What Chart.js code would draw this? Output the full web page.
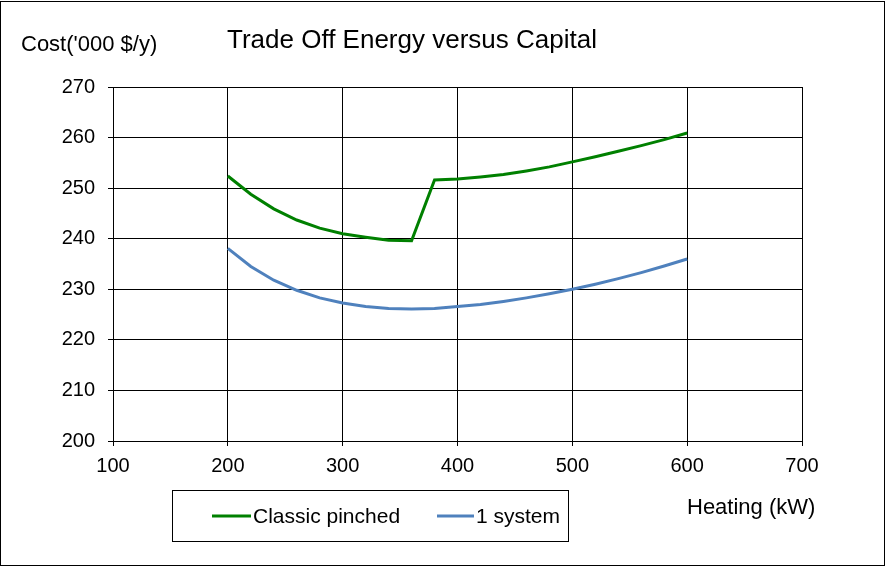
<!DOCTYPE html>
<html>
<head>
<meta charset="utf-8">
<script src="https://cdn.jsdelivr.net/npm/chart.js@4"></script>
<style>
  html, body { margin: 0; padding: 0; background: #fff; }
  #wrap { width: 887px; height: 567px; position: relative; }
</style>
</head>
<body>
<div id="wrap"><canvas id="chart" width="887" height="567"></canvas></div>
<script>
// Heating duty (kW)
const heating = [200, 220, 240, 260, 280, 300, 320, 340, 360, 380, 400, 420, 440, 460, 480, 500, 520, 540, 560, 580, 600];
// Cost ('000 $/y)
const classicPinched = [252.4, 248.8, 245.9, 243.7, 242.1, 241.0, 240.3, 239.7, 239.6, 251.6, 251.8, 252.2, 252.7, 253.4, 254.2, 255.2, 256.2, 257.3, 258.4, 259.6, 260.9];
const oneSystem = [238.1, 234.5, 231.8, 229.8, 228.3, 227.3, 226.6, 226.2, 226.1, 226.2, 226.6, 227.0, 227.6, 228.3, 229.1, 230.0, 231.0, 232.1, 233.3, 234.6, 236.0];
const xTicks = [100, 200, 300, 400, 500, 600, 700];
const yTicks = [200, 210, 220, 230, 240, 250, 260, 270];

const FONT = 'Liberation Sans, Arial, sans-serif';

const toPoints = (ys) => heating.map((x, i) => ({ x: x, y: ys[i] }));

// textes, légende et cadre
const decorations = {
    id: 'decorations',
    afterDraw(chart) {
        const ctx = chart.ctx;
        ctx.save();
        ctx.strokeStyle = '#000';
        ctx.lineWidth = 1;
        ctx.strokeRect(0.5, 1.5, 884, 564);

        ctx.fillStyle = '#000';
        ctx.textBaseline = 'middle';
        ctx.textAlign = 'left';
        ctx.font = '22px ' + FONT;
        ctx.fillText("Cost('000 $/y)", 21, 45);
        ctx.font = '26px ' + FONT;
        ctx.fillText('Trade Off Energy versus Capital', 227, 41);
        ctx.font = '22px ' + FONT;
        ctx.fillText('Heating (kW)', 687, 508);

        // légende
        ctx.strokeRect(172.5, 490.5, 396, 51);
        ctx.lineWidth = 3;
        ctx.strokeStyle = '#008000';
        ctx.beginPath(); ctx.moveTo(212, 516); ctx.lineTo(251, 516); ctx.stroke();
        ctx.strokeStyle = '#4F81BD';
        ctx.beginPath(); ctx.moveTo(437, 516); ctx.lineTo(474, 516); ctx.stroke();
        ctx.font = '21px ' + FONT;
        ctx.fillText('Classic pinched', 253, 517);
        ctx.fillText('1 system', 476, 517);
        ctx.restore();
    }
};

new Chart(document.getElementById('chart'), {
    type: 'line',
    data: {
        datasets: [
            {
                label: 'Classic pinched',
                data: toPoints(classicPinched),
                borderColor: '#008000',
                borderWidth: 3,
                pointRadius: 0,
                tension: 0
            },
            {
                label: '1 system',
                data: toPoints(oneSystem),
                borderColor: '#4F81BD',
                borderWidth: 3,
                pointRadius: 0,
                tension: 0
            }
        ]
    },
    options: {
        responsive: false,
        animation: false,
        layout: { padding: { left: 0, right: 85, top: 87, bottom: 86 } },
        plugins: {
            legend: { display: false },
            tooltip: { enabled: false }
        },
        scales: {
            x: {
                type: 'linear',
                min: 100,
                max: 700,
                afterBuildTicks: (s) => { s.ticks = xTicks.map(v => ({ value: v })); },
                afterFit: (s) => { s.height = 40; },
                grid: { color: '#000', lineWidth: 1, tickLength: 5, drawTicks: true },
                border: { color: '#000', width: 1 },
                ticks: { color: '#000', font: { family: FONT, size: 20 }, padding: 8, maxRotation: 0 }
            },
            y: {
                min: 200,
                max: 270,
                afterBuildTicks: (s) => { s.ticks = yTicks.map(v => ({ value: v })); },
                afterFit: (s) => { s.width = 113; },
                grid: { color: '#000', lineWidth: 1, tickLength: 5 },
                border: { color: '#000', width: 1 },
                ticks: { color: '#000', font: { family: FONT, size: 20 }, padding: 13 }
            }
        }
    },
    plugins: [decorations, {
        id: 'plotFrame',
        afterDatasetsDraw(chart) {
            const a = chart.chartArea, ctx = chart.ctx;
            ctx.save();
            ctx.strokeStyle = '#000';
            ctx.lineWidth = 1;
            ctx.strokeRect(Math.round(a.left) + 0.5, Math.round(a.top) + 0.5, Math.round(a.width), Math.round(a.height));
            ctx.restore();
        }
    }]
});
</script>
</body>
</html>
